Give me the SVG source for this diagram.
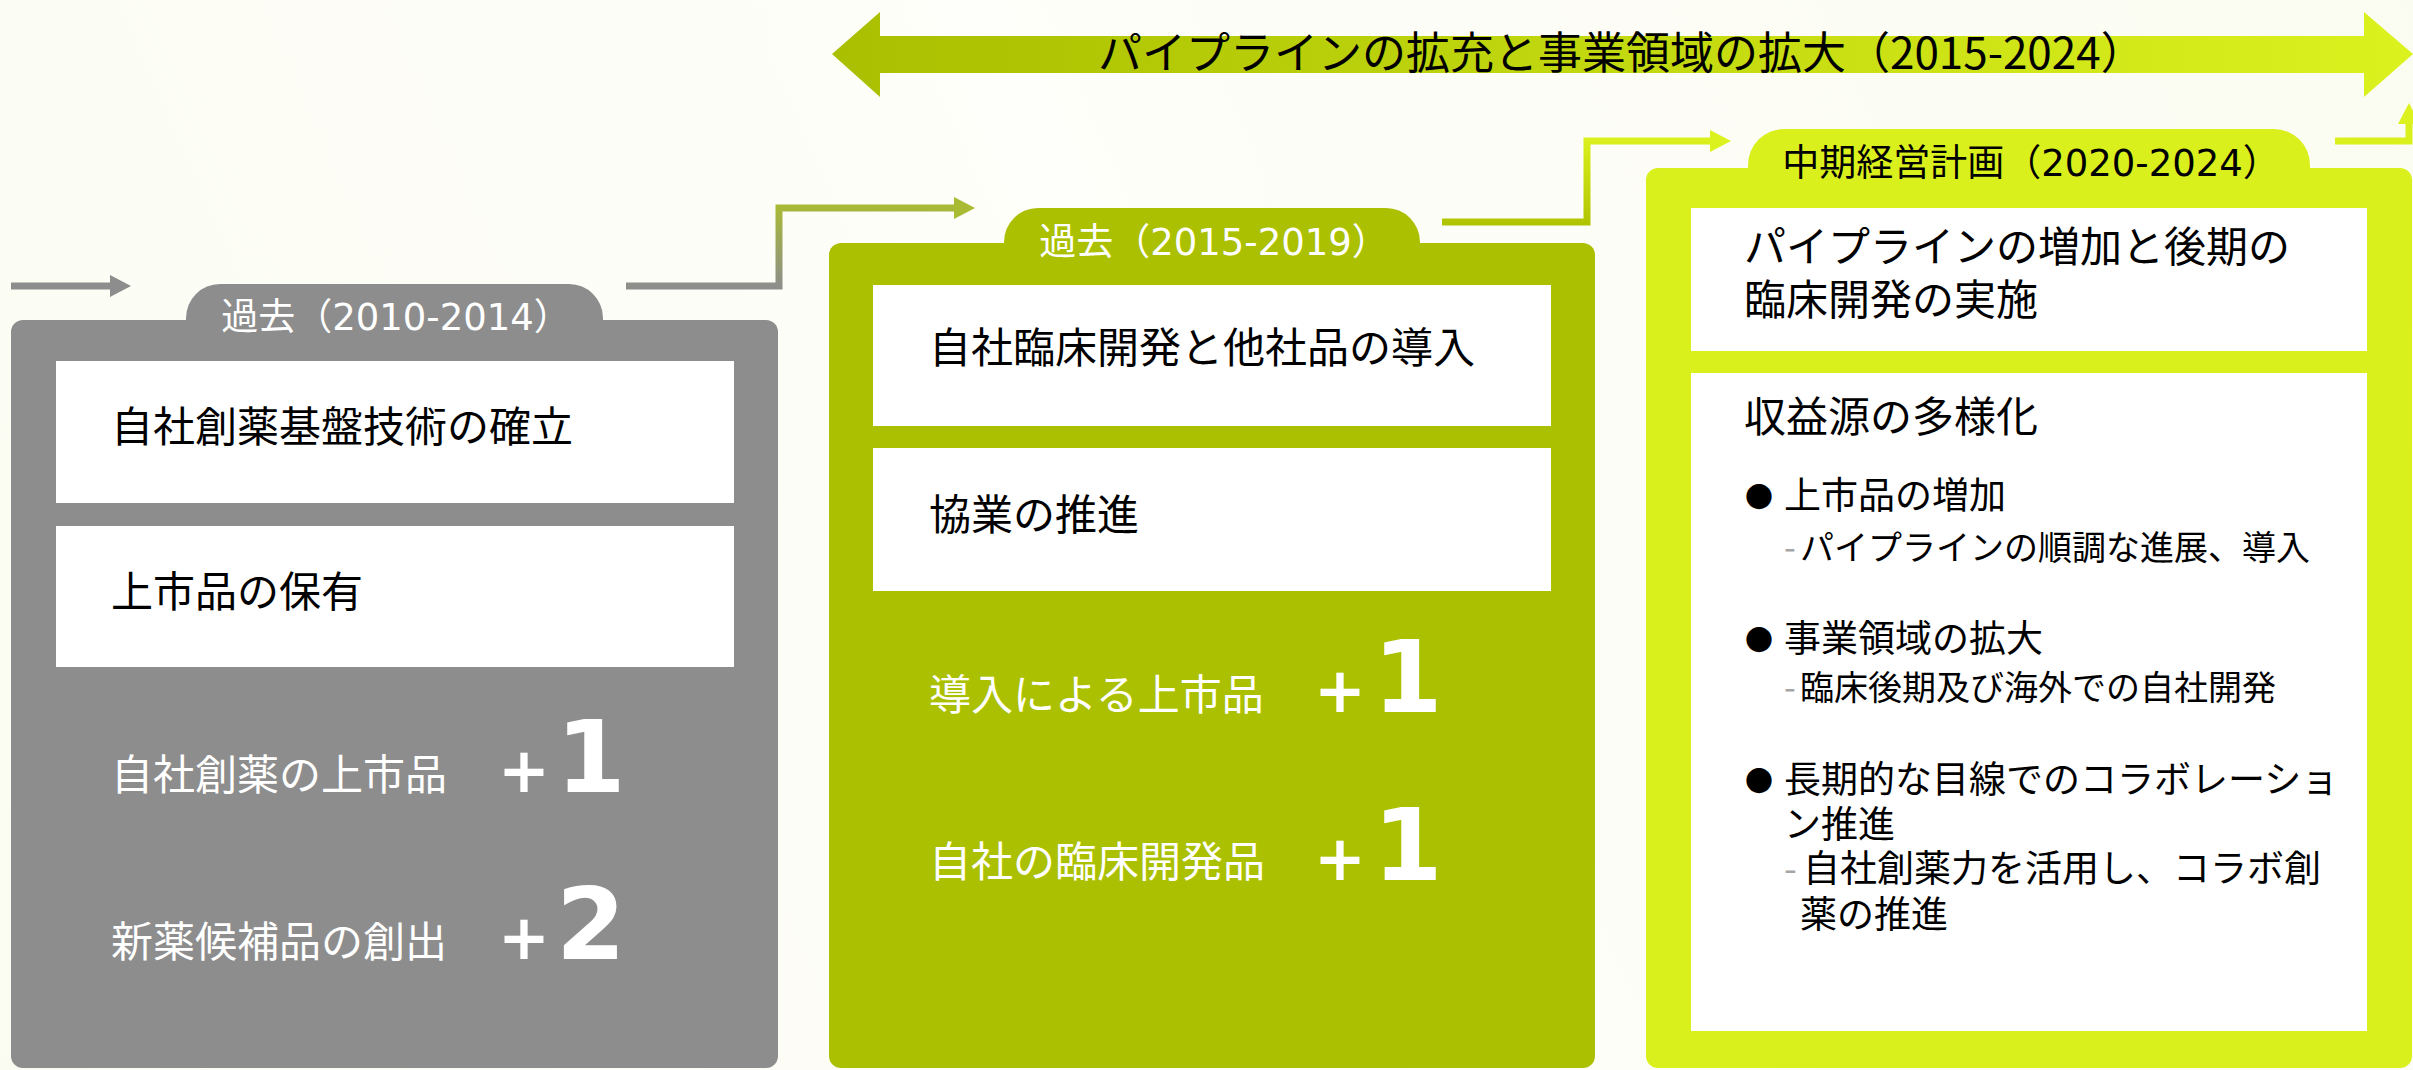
<svg xmlns="http://www.w3.org/2000/svg" width="2413" height="1070" viewBox="0 0 2413 1070">
<defs>
  <style>
    .jp { font-family: "Noto Sans CJK JP", "Noto Sans", sans-serif; }
    .mix { font-family: "DejaVu Sans", "Noto Sans CJK JP", sans-serif; }
    .main { font-size: 42px; fill: #000; }
    .wt { font-size: 42px; fill: #fff; }
    .tab { font-size: 37px; text-anchor: middle; }
    .num { font-family: "DejaVu Sans", sans-serif; font-weight: bold; fill: #fff; }
    .plus { font-size: 62px; }
    .digit { font-size: 100px; }
    .b1 { font-size: 37px; fill: #000; }
    .b2 { font-size: 34px; fill: #000; }
    .dash { fill: #a6a6a6; }
    .bul { font-size: 28px; fill: #000; }
    .white { fill: #fff; }
    .gray { fill: #8d8d8d; }
    .green { fill: #abc000; }
    .lime { fill: #daf01c; }
    .conn { fill: none; stroke-width: 7; stroke-linejoin: miter; stroke-linecap: butt; }
  </style>
  <linearGradient id="bgGrad" x1="0" y1="1070" x2="2413" y2="0" gradientUnits="userSpaceOnUse">
    <stop offset="0" stop-color="#fbfcf1"/>
    <stop offset="0.5" stop-color="#fefefa"/>
    <stop offset="1" stop-color="#fbfcf1"/>
  </linearGradient>
  <linearGradient id="bannerGrad" x1="832" y1="0" x2="2413" y2="0" gradientUnits="userSpaceOnUse">
    <stop offset="0" stop-color="#a9bf00"/>
    <stop offset="1" stop-color="#dcf21e"/>
  </linearGradient>
  <linearGradient id="c1Grad" x1="0" y1="289" x2="0" y2="204" gradientUnits="userSpaceOnUse">
    <stop offset="0" stop-color="#8d8d8d"/>
    <stop offset="1" stop-color="#a9bb33"/>
  </linearGradient>
  <linearGradient id="c2Grad" x1="0" y1="226" x2="0" y2="137" gradientUnits="userSpaceOnUse">
    <stop offset="0" stop-color="#afc300"/>
    <stop offset="1" stop-color="#dcf21e"/>
  </linearGradient>
  <marker id="headGray" markerUnits="userSpaceOnUse" viewBox="0 0 21 22" markerWidth="21" markerHeight="22" refX="0" refY="11" orient="auto">
    <path d="M0,0 L21,11 L0,22 z" fill="#8d8d8d"/>
  </marker>
  <marker id="headOlive" markerUnits="userSpaceOnUse" viewBox="0 0 21 22" markerWidth="21" markerHeight="22" refX="0" refY="11" orient="auto">
    <path d="M0,0 L21,11 L0,22 z" fill="#a9bb33"/>
  </marker>
  <marker id="headLime" markerUnits="userSpaceOnUse" viewBox="0 0 21 22" markerWidth="21" markerHeight="22" refX="0" refY="11" orient="auto">
    <path d="M0,0 L21,11 L0,22 z" fill="#dcf21e"/>
  </marker>
</defs>

<rect x="0" y="0" width="2413" height="1070" fill="url(#bgGrad)"/>

<g id="period-banner">
  <polygon points="832,54 880,12 880,36 2364,36 2364,12 2413,54 2364,97 2364,73 880,73 880,97" fill="url(#bannerGrad)"/>
  <text class="jp" x="1098" y="69" font-size="44" fill="#000">パイプラインの拡充と事業領域の拡大（2015-2024）</text>
</g>

<g id="connectors">
  <path class="conn" d="M11,286 H110" stroke="#8d8d8d" marker-end="url(#headGray)"/>
  <path class="conn" d="M626,286 H779 V208 H954" stroke="url(#c1Grad)" marker-end="url(#headOlive)"/>
  <path class="conn" d="M1442,222 H1587 V141 H1710" stroke="url(#c2Grad)" marker-end="url(#headLime)"/>
  <path class="conn" d="M2335,141 H2409 V124" stroke="#daf01c" marker-end="url(#headLime)"/>
</g>

<g id="card-2010">
  <rect class="gray" x="186" y="284" width="417" height="80" rx="34"/>
  <rect class="gray" x="11" y="320" width="767" height="748" rx="12"/>
  <rect class="white" x="56" y="361" width="678" height="142"/>
  <rect class="white" x="56" y="526" width="678" height="141"/>
  <text class="mix tab" x="396" y="330" fill="#fff">過去（2010-2014）</text>
  <text class="jp main" x="111" y="442">自社創薬基盤技術の確立</text>
  <text class="jp main" x="111" y="607">上市品の保有</text>
  <text class="jp wt" x="111" y="790">自社創薬の上市品</text>
  <text class="num" y="792"><tspan class="plus" x="498">+</tspan><tspan class="digit" x="556">1</tspan></text>
  <text class="jp wt" x="111" y="957">新薬候補品の創出</text>
  <text class="num" y="959"><tspan class="plus" x="498">+</tspan><tspan class="digit" x="556">2</tspan></text>
</g>

<g id="card-2015">
  <rect class="green" x="1004" y="208" width="416" height="80" rx="34"/>
  <rect class="green" x="829" y="243" width="766" height="825" rx="12"/>
  <rect class="white" x="873" y="285" width="678" height="141"/>
  <rect class="white" x="873" y="448" width="678" height="143"/>
  <text class="mix tab" x="1214" y="255" fill="#fff">過去（2015-2019）</text>
  <text class="jp main" x="929" y="363">自社臨床開発と他社品の導入</text>
  <text class="jp main" x="929" y="530">協業の推進</text>
  <text class="jp wt" x="929" y="710">導入による上市品</text>
  <text class="num" y="712"><tspan class="plus" x="1314">+</tspan><tspan class="digit" x="1373">1</tspan></text>
  <text class="jp wt" x="929" y="877">自社の臨床開発品</text>
  <text class="num" y="880"><tspan class="plus" x="1314">+</tspan><tspan class="digit" x="1373">1</tspan></text>
</g>

<g id="card-2020">
  <rect class="lime" x="1748" y="129" width="562" height="80" rx="36"/>
  <rect class="lime" x="1646" y="168" width="766" height="900" rx="12"/>
  <rect class="white" x="1691" y="208" width="676" height="143"/>
  <rect class="white" x="1691" y="373" width="676" height="658"/>
  <text class="mix tab" x="2031" y="176" fill="#000">中期経営計画（2020-2024）</text>
  <text class="jp main"><tspan x="1744" y="262">パイプラインの増加と後期の</tspan><tspan x="1744" y="315">臨床開発の実施</tspan></text>
  <text class="jp main" x="1744" y="432">収益源の多様化</text>

  <text class="jp bul" x="1745" y="508">●</text>
  <text class="jp b1" x="1784" y="509">上市品の増加</text>
  <text class="jp b2" x="1784" y="560"><tspan class="dash">-</tspan><tspan x="1800">パイプラインの順調な進展、導入</tspan></text>

  <text class="jp bul" x="1745" y="651">●</text>
  <text class="jp b1" x="1784" y="652">事業領域の拡大</text>
  <text class="jp b2" x="1784" y="700"><tspan class="dash">-</tspan><tspan x="1800">臨床後期及び海外での自社開発</tspan></text>

  <text class="jp bul" x="1745" y="792">●</text>
  <text class="jp b1"><tspan x="1784" y="793">長期的な目線でのコラボレーショ</tspan><tspan x="1784" y="838">ン推進</tspan><tspan class="dash" x="1784" y="882">-</tspan><tspan x="1803" y="882">自社創薬力を活用し、コラボ創</tspan><tspan x="1800" y="928">薬の推進</tspan></text>
</g>
</svg>
